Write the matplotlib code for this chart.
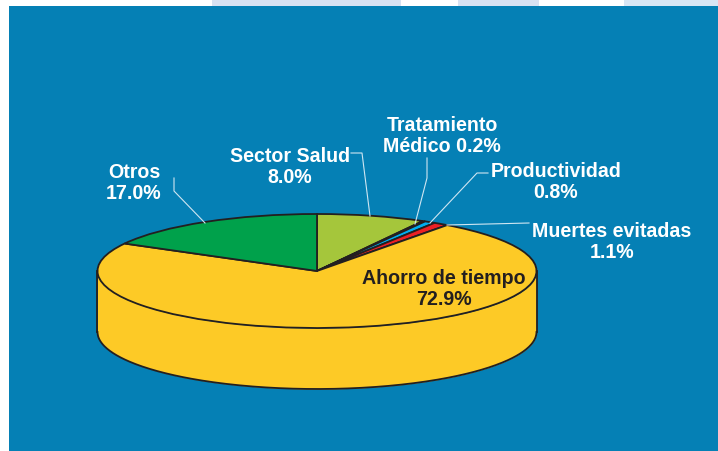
import numpy as np
import matplotlib
matplotlib.use('Agg')
import matplotlib.pyplot as plt
from matplotlib.transforms import Affine2D

plt.rcParams['font.family'] = ['Liberation Sans', 'DejaVu Sans']

labels = ['Sector Salud', 'Tratamiento\nMédico', 'Productividad', 'Muertes evitadas', 'Ahorro de tiempo', 'Otros']
values = [8.0, 0.2, 0.8, 1.1, 72.9, 17.0]
colors = ['#a5c63b', '#231f20', '#00aeef', '#ed2024', '#fdca26', '#00a14b']
ink = '#231f20'
blue = '#0580b5'

W, H = 718, 452
cx, cy, rx, ry, depth = 317, 272, 219.5, 57, 61

fig = plt.figure(figsize=(W / 100, H / 100), dpi=100, facecolor='white')
ax = fig.add_axes([0, 0, 1, 1])
ax.axis('off')
# pixel coordinates of the picture, y going down
px = Affine2D().scale(1 / W, -1 / H).translate(0, 1) + fig.transFigure


def rect(x0, y0, x1, y1, c, z=-1):
    fig.patches.append(plt.Rectangle((x0, y0), x1 - x0, y1 - y0, transform=px, fc=c, ec='none', zorder=z))


# faint watermark above the panel and the panel itself
rect(212, 0, 401, 7, '#d8e2f2')
rect(458, 0, 539, 7, '#d8e2f2')
rect(624, 0, W, 7, '#d8e6f4')
rect(9, 7, W, H, blue)

ax.patch.set_visible(False)
wedges, _ = ax.pie(values, colors=colors, startangle=90, counterclock=False, radius=1,
                   wedgeprops={'edgecolor': ink, 'linewidth': 1.3, 'zorder': 4})
ax.set_aspect('auto')
ax.set_xlim(-cx / rx, (W - cx) / rx)
ax.set_ylim(-(H - cy) / ry, cy / ry)

# side wall of the cake
t = np.linspace(np.pi, 2 * np.pi, 300)
wall_x = np.cos(t)
wall_top = np.sin(t)
wall_bot = wall_top - depth / ry
ax.fill_between(wall_x, wall_bot, wall_top, color=colors[4], lw=0, zorder=2)
ax.plot(wall_x, wall_bot, color=ink, lw=1.3, zorder=3)
ax.plot([-1, -1], [0, -depth / ry], color=ink, lw=1.3, zorder=3)
ax.plot([1, 1], [0, -depth / ry], color=ink, lw=1.3, zorder=3)

# leader lines
leaders = [
    [(174, 179), (174, 192), (205, 224)],
    [(351, 154), (362, 154), (370, 217)],
    [(427, 159), (427, 179), (415, 225)],
    [(488, 174), (477, 174), (430, 224)],
    [(529, 224), (447, 226)],
]
for pts in leaders:
    xs, ys = zip(*pts)
    ax.plot(xs, ys, color='#cfe6f2', lw=0.8, transform=px, zorder=5)

fs = 14.1
txt = [
    (134, 183, 'Otros\n17.0%', 'white'),
    (290, 167, 'Sector Salud\n8.0%', 'white'),
    (442, 136, 'Tratamiento\nMédico 0.2%', 'white'),
    (556, 182, 'Productividad\n0.8%', 'white'),
    (612, 242, 'Muertes evitadas\n1.1%', 'white'),
    (444, 289, 'Ahorro de tiempo\n72.9%', ink),
]
for x, y, s, c in txt:
    ax.text(x, y, s, transform=px, color=c, fontsize=fs, fontweight='bold',
            ha='center', va='center', linespacing=1.14, zorder=6)

fig.savefig('out.png', dpi=100, facecolor='white')
plt.close()
